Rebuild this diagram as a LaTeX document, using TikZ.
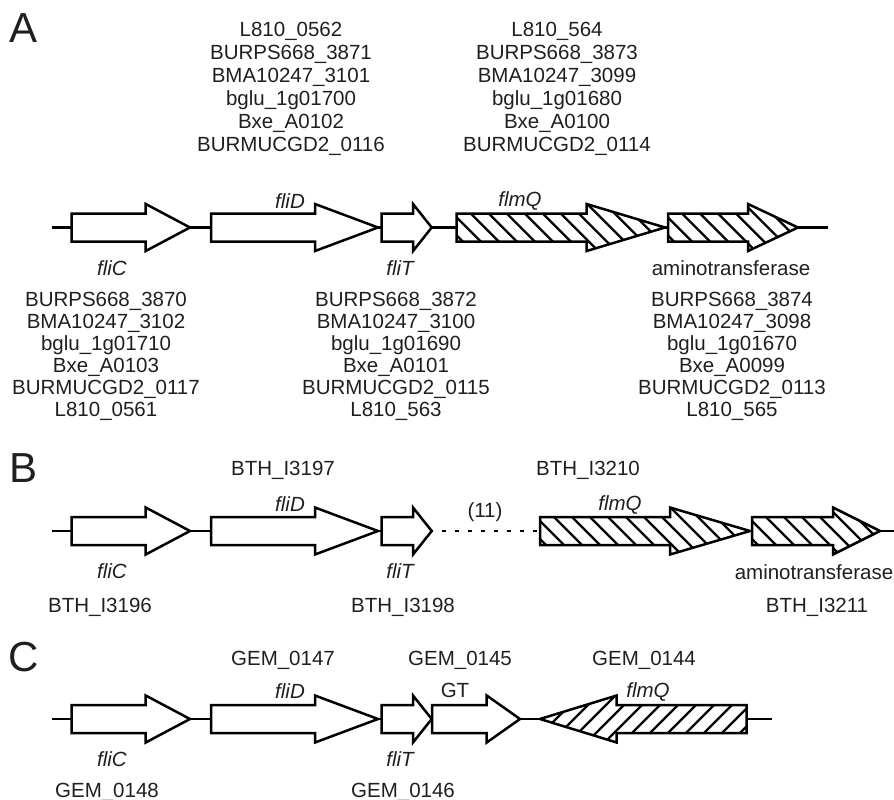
\documentclass[tikz,border=0pt]{standalone}
\usepackage{fontspec}
\setmainfont[Ligatures=NoCommon]{Liberation Sans}

% open gene arrow: name, start, head base, tip, row
\newcommand{\gene}[5]{%
  \coordinate (#1-s) at (#2,#5);
  \coordinate (#1-t) at (#4,#5);
  \draw[genebox]
    (#2,#5-14) -- (#3,#5-14) -- (#3,#5-23.5) -- (#4,#5)
    -- (#3,#5+23.5) -- (#3,#5+14) -- (#2,#5+14) -- cycle;}

% hatched gene arrow: name, start, head base, tip, row, slant (1 or -1)
\newcommand{\hatchgene}[6]{%
  \coordinate (#1-s) at (#2,#5);
  \coordinate (#1-t) at (#4,#5);
  \fill[white]
    (#2,#5-14) -- (#3,#5-14) -- (#3,#5-23.5) -- (#4,#5)
    -- (#3,#5+23.5) -- (#3,#5+14) -- (#2,#5+14) -- cycle;
  \begin{scope}
    \clip
      (#2,#5-14) -- (#3,#5-14) -- (#3,#5-23.5) -- (#4,#5)
      -- (#3,#5+23.5) -- (#3,#5+14) -- (#2,#5+14) -- cycle;
    \foreach \k in {0,...,22}
      \draw[hatchline] ({min(#2,#4)-50+18*\k},#5-24) -- ++(#6*48,48);
  \end{scope}
  \draw[genebox,fill=none]
    (#2,#5-14) -- (#3,#5-14) -- (#3,#5-23.5) -- (#4,#5)
    -- (#3,#5+23.5) -- (#3,#5+14) -- (#2,#5+14) -- cycle;}

\begin{document}
\begin{tikzpicture}[
  x=1pt, y=-1pt,
  every node/.style={font=\fontsize{20.5}{23}\selectfont, inner sep=0pt, text=black!88},
  genebox/.style={draw=black, line width=2.5pt, fill=white},
  hatchline/.style={line width=2.2pt},
  backbone/.style={line width=2.5pt},
  gapline/.style={line width=2.5pt, dash pattern=on 4pt off 9pt, dash phase=3pt},
  genename/.style={font=\fontsize{20.5}{23}\selectfont\itshape},
  locus/.style={align=center, anchor=north},
  lowlocus/.style={align=center, anchor=north, font=\fontsize{20.5}{22}\selectfont},
  panel/.style={font=\fontsize{42}{42}\selectfont}
]
  \useasboundingbox (0,0) rectangle (894,800);

  % Panel A
  \coordinate (A-l) at (52,227.5);
  \coordinate (A-r) at (828,227.5);
  \draw[backbone] (A-l) -- (A-r);

  \gene{fliCA}{71.7}{145.7}{190}{227.5}
  \gene{fliDA}{211}{315}{378}{227.5}
  \gene{fliTA}{381.7}{413}{431.7}{227.5}
  \hatchgene{flmQA}{456.7}{586.7}{665}{227.5}{1}
  \hatchgene{amtA}{668}{748}{798}{227.5}{1}

  \node[panel] (labA) at (24,28) {A};

  % Loci above
  \node[locus] (upA1) at (291,22)
    {L810\_0562\\BURPS668\_3871\\BMA10247\_3101\\bglu\_1g01700\\Bxe\_A0102\\BURMUCGD2\_0116};
  \node[locus] (upA2) at (557,22)
    {L810\_564\\BURPS668\_3873\\BMA10247\_3099\\bglu\_1g01680\\Bxe\_A0100\\BURMUCGD2\_0114};

  % Gene names
  \node[genename] (nDA) at (290,201) {fliD};
  \node[genename] (nQA) at (520,201) {flmQ};
  \node[genename] (nCA) at (112,268) {fliC};
  \node[genename] (nTA) at (400,268) {fliT};
  \node (nAA) at (731,268) {aminotransferase};

  % Loci below
  \node[lowlocus] (loA1) at (106,292)
    {BURPS668\_3870\\BMA10247\_3102\\bglu\_1g01710\\Bxe\_A0103\\BURMUCGD2\_0117\\L810\_0561};
  \node[lowlocus] (loA2) at (396,292)
    {BURPS668\_3872\\BMA10247\_3100\\bglu\_1g01690\\Bxe\_A0101\\BURMUCGD2\_0115\\L810\_563};
  \node[lowlocus] (loA3) at (732,292)
    {BURPS668\_3874\\BMA10247\_3098\\bglu\_1g01670\\Bxe\_A0099\\BURMUCGD2\_0113\\L810\_565};

  % Panel B
  \coordinate (B-l) at (52,531);
  \coordinate (B-r) at (894,531);
  \draw[backbone] (B-l) -- (381.7,531);
  \draw[backbone] (880,531) -- (B-r);

  \gene{fliCB}{71.7}{145.7}{190}{531}
  \gene{fliDB}{211}{315}{378}{531}
  \gene{fliTB}{381.7}{413}{431.7}{531}
  \hatchgene{flmQB}{540}{670}{750}{531}{1}
  \hatchgene{amtB}{752}{833}{880}{531}{1}
  \draw[gapline] (fliTB-t) -- (flmQB-s);

  \node[panel] (labB) at (24,468) {B};

  \node (upB1) at (283,470) {BTH\_I3197};
  \node (upB2) at (588,470) {BTH\_I3210};
  \node[genename] (nDB) at (290,504) {fliD};
  \node[genename] (nQB) at (620,505) {flmQ};
  \node (gapB) at (485,512) {(11)};
  \node[genename] (nCB) at (112,571) {fliC};
  \node[genename] (nTB) at (400,571) {fliT};
  \node (nAB) at (814,572) {aminotransferase};
  \node (loB1) at (100,607) {BTH\_I3196};
  \node (loB2) at (403,607) {BTH\_I3198};
  \node (loB3) at (817,607) {BTH\_I3211};

  % Panel C
  \coordinate (C-l) at (52,719);
  \coordinate (C-r) at (771.7,719);
  \draw[backbone] (C-l) -- (C-r);

  \gene{fliCC}{71.7}{145.7}{190}{719}
  \gene{fliDC}{211}{315}{378}{719}
  \gene{fliTC}{381.7}{413}{431.7}{719}
  \gene{gtC}{432}{486.7}{520}{719}
  \hatchgene{flmQC}{746.7}{616.7}{540}{719}{-1}

  \node[panel] (labC) at (24,657) {C};

  \node (upC1) at (283,660) {GEM\_0147};
  \node (upC2) at (460,660) {GEM\_0145};
  \node (upC3) at (644,660) {GEM\_0144};
  \node[genename] (nDC) at (290,691) {fliD};
  \node (nGC) at (455,690) {GT};
  \node[genename] (nQC) at (648,692) {flmQ};
  \node[genename] (nCC) at (112,759) {fliC};
  \node[genename] (nTC) at (400,759) {fliT};
  \node (loC1) at (107,792) {GEM\_0148};
  \node (loC2) at (403,792) {GEM\_0146};
\end{tikzpicture}
\end{document}
